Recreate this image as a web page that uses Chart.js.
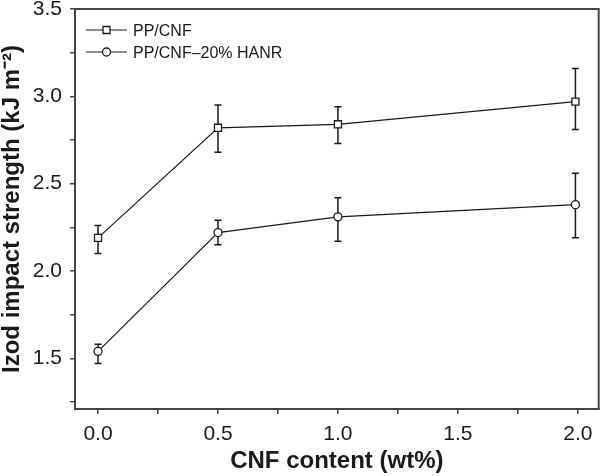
<!DOCTYPE html>
<html>
<head>
<meta charset="UTF-8">
<title>Izod impact strength</title>
<style>
html, body { margin: 0; padding: 0; background: #fff; }
</style>
</head>
<body>
<canvas id="myChart" width="605" height="476"></canvas>

<script src="https://cdn.jsdelivr.net/npm/chart.js"></script>
<script>
// values
const cnfContent = [0.0, 0.5, 1.0, 1.99];
const ppCnf      = [2.19, 2.82, 2.84, 2.97];
const ppCnfHigh  = [2.26, 2.95, 2.94, 3.16];
const ppCnfLow   = [2.10, 2.68, 2.73, 2.81];
const ppHanr     = [1.54, 2.22, 2.31, 2.38];
const ppHanrHigh = [1.58, 2.29, 2.42, 2.56];
const ppHanrLow  = [1.47, 2.15, 2.17, 2.19];
const seriesNames = ['PP/CNF', 'PP/CNF\u201320% HANR'];
const xTicks = [0, 0.25, 0.5, 0.75, 1.0, 1.25, 1.5, 1.75, 2.0];
const yTicks = [1.25, 1.5, 1.75, 2.0, 2.25, 2.5, 2.75, 3.0, 3.25, 3.5];

const ink = '#1a1a1a';
const axisCol = '#444';

function points(xs, ys) {
  return xs.map((v, i) => ({ x: v, y: ys[i] }));
}

// vertical error bars with caps, drawn under the markers
const errorBars = {
  id: 'errorBars',
  beforeDatasetsDraw(chart) {
    const { ctx, scales: { x, y } } = chart;
    ctx.save();
    ctx.strokeStyle = ink;
    ctx.lineWidth = 1.5;
    chart.data.datasets.forEach(ds => {
      ds.data.forEach((p, i) => {
        const px = x.getPixelForValue(p.x);
        const top = y.getPixelForValue(ds.errHigh[i]);
        const bot = y.getPixelForValue(ds.errLow[i]);
        ctx.beginPath();
        ctx.moveTo(px, top); ctx.lineTo(px, bot);
        ctx.moveTo(px - 3.5, top); ctx.lineTo(px + 3.5, top);
        ctx.moveTo(px - 3.5, bot); ctx.lineTo(px + 3.5, bot);
        ctx.stroke();
      });
    });
    ctx.restore();
  }
};

// legend inside the plot: line with marker, then the name
const insideLegend = {
  id: 'insideLegend',
  afterDraw(chart) {
    const { ctx, chartArea } = chart;
    ctx.save();
    // frame round the plot
    ctx.strokeStyle = axisCol;
    ctx.lineWidth = 2;
    ctx.strokeRect(chartArea.left, chartArea.top, chartArea.right - chartArea.left, chartArea.bottom - chartArea.top);

    chart.data.datasets.forEach((ds, i) => {
      const yy = chartArea.top + 21 + i * 22;
      const x0 = chartArea.left + 11;
      ctx.strokeStyle = ink;
      ctx.lineWidth = 1.2;
      ctx.beginPath();
      ctx.moveTo(x0, yy); ctx.lineTo(x0 + 41, yy);
      ctx.stroke();
      ctx.fillStyle = '#fff';
      ctx.lineWidth = 1.3;
      ctx.beginPath();
      if (ds.pointStyle === 'rect') {
        ctx.rect(x0 + 20.5 - 3.5, yy - 3.5, 7, 7);
      } else {
        ctx.arc(x0 + 20.5, yy, 4, 0, Math.PI * 2);
      }
      ctx.fill();
      ctx.stroke();
      ctx.fillStyle = ink;
      ctx.font = '16px "Liberation Sans", Arial, sans-serif';
      ctx.textBaseline = 'alphabetic';
      ctx.fillText(ds.label, x0 + 47, yy + 6);
    });
    ctx.restore();
  }
};

function noPad(s) {
  s.paddingTop = 0; s.paddingBottom = 0; s.paddingLeft = 0; s.paddingRight = 0;
}

new Chart(document.getElementById('myChart'), {
  type: 'line',
  data: {
    datasets: [{
      label: seriesNames[0],
      data: points(cnfContent, ppCnf),
      errHigh: ppCnfHigh,
      errLow: ppCnfLow,
      borderColor: ink,
      borderWidth: 1.2,
      pointStyle: 'rect',
      pointRadius: 5,
      pointBackgroundColor: '#fff',
      pointBorderColor: ink,
      pointBorderWidth: 1.3,
      tension: 0
    }, {
      label: seriesNames[1],
      data: points(cnfContent, ppHanr),
      errHigh: ppHanrHigh,
      errLow: ppHanrLow,
      borderColor: ink,
      borderWidth: 1.2,
      pointStyle: 'circle',
      pointRadius: 4,
      pointBackgroundColor: '#fff',
      pointBorderColor: ink,
      pointBorderWidth: 1.3,
      tension: 0
    }]
  },
  options: {
    responsive: false,
    animation: false,
    layout: { padding: { top: 9, right: 1, left: 0, bottom: 0 } },
    plugins: {
      legend: { display: false },
      tooltip: { enabled: false }
    },
    scales: {
      x: {
        type: 'linear',
        min: -0.096,
        max: 2.087,
        afterBuildTicks: s => { s.ticks = xTicks.map(v => ({ value: v })); },
        afterFit: s => { s.height = 67; noPad(s); },
        ticks: {
          autoSkip: false,
          maxRotation: 0,
          padding: 8,
          color: ink,
          font: { family: '"Liberation Sans", Arial, sans-serif', size: 21 },
          callback: v => (Math.abs(v * 2 - Math.round(v * 2)) < 1e-6 ? v.toFixed(1) : '')
        },
        grid: { drawOnChartArea: false, color: axisCol, lineWidth: 1.5, tickLength: 5 },
        border: { color: axisCol, width: 2 },
        title: {
          display: true,
          text: 'CNF content (wt%)',
          color: ink,
          padding: { top: 0, bottom: 0 },
          font: { family: '"Liberation Sans", Arial, sans-serif', size: 24, weight: 'bold', lineHeight: 1.2 }
        }
      },
      y: {
        type: 'linear',
        min: 1.21,
        max: 3.5,
        afterBuildTicks: s => { s.ticks = yTicks.map(v => ({ value: v })); },
        afterFit: s => { s.width = 75; noPad(s); },
        ticks: {
          autoSkip: false,
          padding: 8,
          color: ink,
          font: { family: '"Liberation Sans", Arial, sans-serif', size: 21 },
          callback: v => (Math.abs(v * 2 - Math.round(v * 2)) < 1e-6 ? v.toFixed(1) : '')
        },
        grid: { drawOnChartArea: false, color: axisCol, lineWidth: 1.5, tickLength: 5 },
        border: { color: axisCol, width: 2 },
        title: {
          display: true,
          text: 'Izod impact strength (kJ m\u207B\u00B2)',
          color: ink,
          padding: { top: 0, bottom: 0 },
          font: { family: '"Liberation Sans", Arial, sans-serif', size: 24, weight: 'bold', lineHeight: 1.0 }
        }
      }
    }
  },
  plugins: [errorBars, insideLegend]
});
</script>
</body>
</html>
